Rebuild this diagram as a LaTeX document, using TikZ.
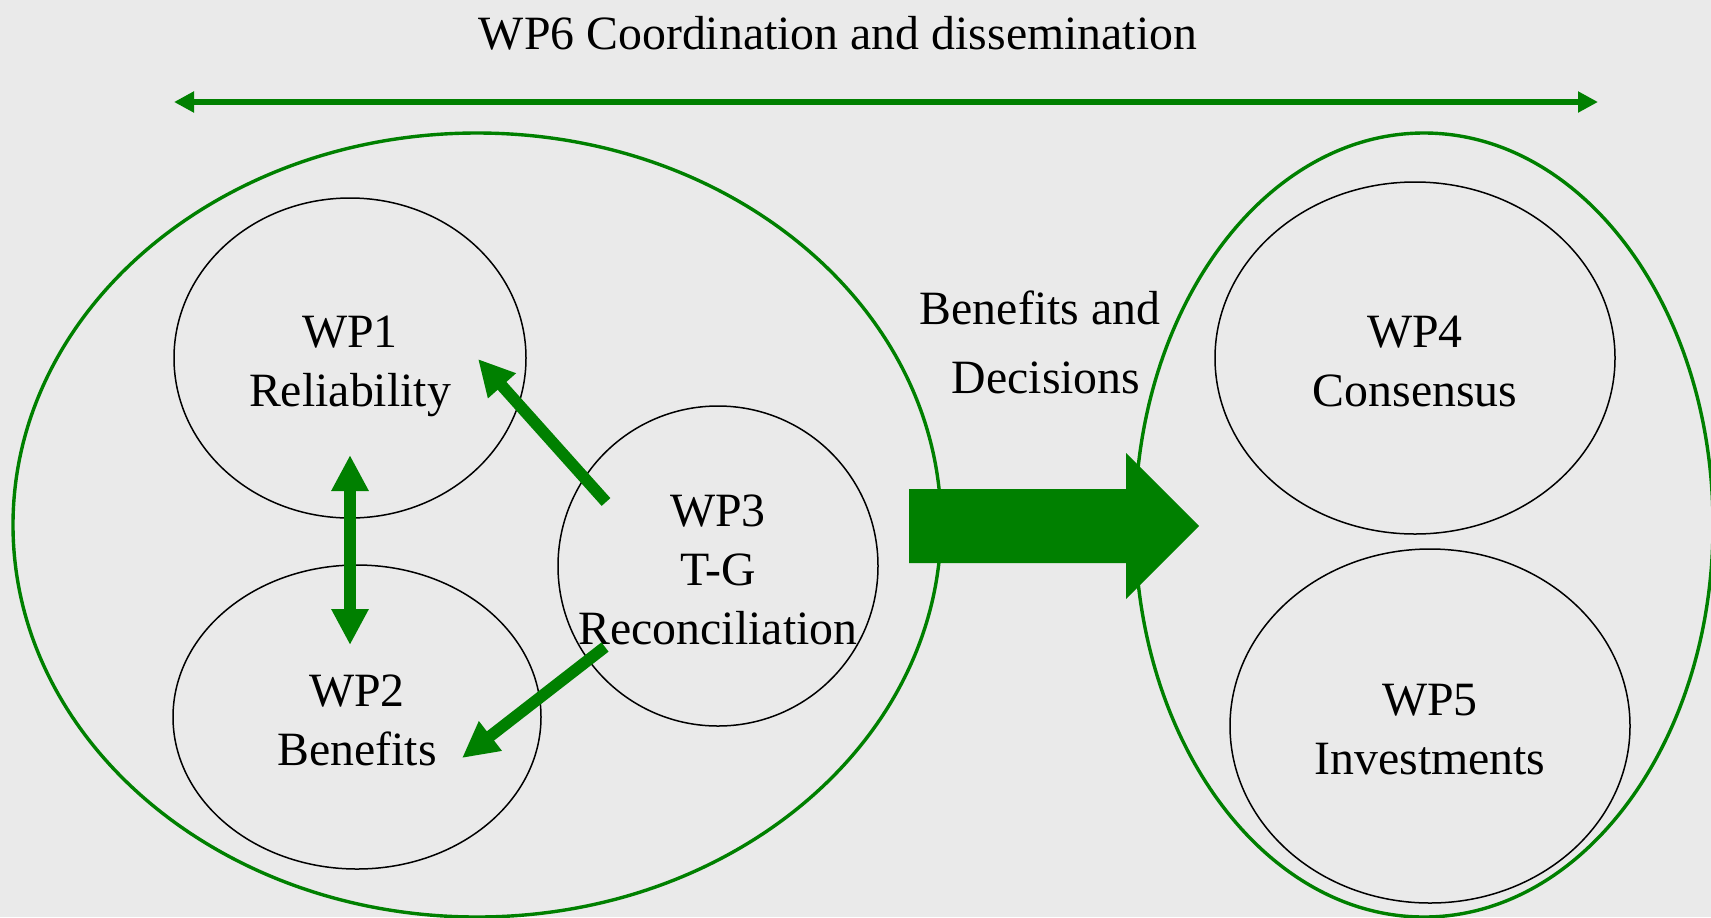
\documentclass[tikz,border=0pt]{standalone}
\usepackage{fontspec}
\setmainfont{Liberation Serif}
\usetikzlibrary{shapes.geometric,arrows.meta}
\definecolor{bg}{RGB}{234,234,234}
\definecolor{dkgreen}{RGB}{0,128,0}
\begin{document}
\begin{tikzpicture}[x=0.5pt,y=-0.5pt,
  txt/.style={font=\fontsize{23.9}{29.5}\selectfont, align=center, inner sep=0pt},
  wptxt/.style={txt, text depth=5.2pt, yshift=-4.4pt},
  wp/.style={ellipse, draw=black, line width=0.75pt, inner sep=0pt},
  grp/.style={ellipse, draw=dkgreen, line width=1.7pt, inner sep=0pt},
  thickarr/.style={draw=dkgreen, line width=5.85pt, -{Triangle[length=18pt,width=17.5pt]}},
  thickdbl/.style={draw=dkgreen, line width=5.85pt, {Triangle[length=18pt,width=17.5pt]}-{Triangle[length=18pt,width=17.5pt]}},
  toparr/.style={draw=dkgreen, line width=3.35pt, {Triangle[length=10pt,width=10pt]}-{Triangle[length=10pt,width=10pt]}},
  blockarr/.style={fill=dkgreen, draw=none}
]
\fill[bg] (0,0) rectangle (1711,917);
\useasboundingbox (0,0) rectangle (1711,917);

% group ellipses
\node[grp, minimum width=464pt, minimum height=392pt] (left) at (477,525) {};
\node[grp, minimum width=289pt, minimum height=392pt] (right) at (1424,525) {};

% work packages
\node[wp, minimum width=176pt, minimum height=160pt,
  label={[wptxt]center:{WP1\\Reliability}}] (wp1) at (350,358) {};
\node[wp, minimum width=184pt, minimum height=152pt,
  label={[wptxt]center:{WP2\\Benefits}}] (wp2) at (357,717) {};
\node[wp, minimum width=160pt, minimum height=160pt,
  label={[wptxt]center:{WP3\\T-G\\Reconciliation}}] (wp3) at (718,566) {};
\node[wp, minimum width=200pt, minimum height=176pt,
  label={[wptxt]center:{WP4\\Consensus}}] (wp4) at (1415,358) {};
\node[wp, minimum width=200pt, minimum height=177pt,
  label={[wptxt]center:{WP5\\Investments}}] (wp5) at (1430,726) {};

% title and top arrow
\node[txt, anchor=base] (title) at (838,49) {WP6 Coordination and dissemination};
\coordinate (tl) at (174,102);
\coordinate (tr) at (1598,102);
\draw[toparr] (tl) -- (tr);

% benefits label
\node[txt, anchor=base] (bd1) at (1040,324) {Benefits and};
\node[txt, anchor=base] (bd2) at (1046,393) {Decisions};

% internal arrows
\coordinate (v1) at (350,455);
\coordinate (v2) at (350,645);
\draw[thickdbl] (v1) -- (v2);
\coordinate (a1s) at (606,502);
\coordinate (a1e) at (478,359);
\draw[thickarr] (a1s) -- (a1e);
\coordinate (a2s) at (605,647);
\coordinate (a2e) at (462,758);
\draw[thickarr] (a2s) -- (a2e);

% big block arrow
\fill[blockarr] (909,489) -- (1126,489) -- (1126,453) -- (1199,526) -- (1126,599) -- (1126,563) -- (909,563) -- cycle;
\end{tikzpicture}
\end{document}
